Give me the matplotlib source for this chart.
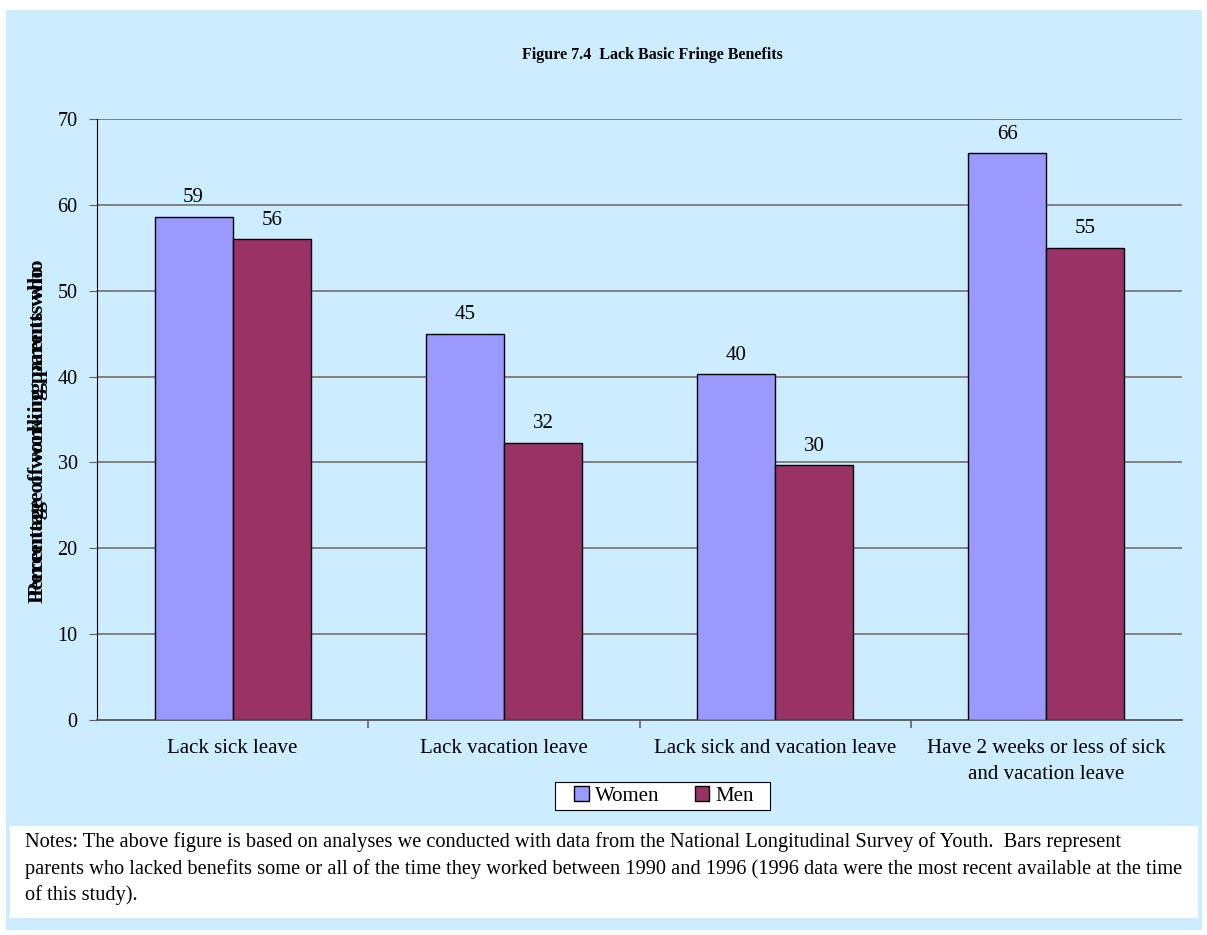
import matplotlib.pyplot as plt
import numpy as np
from matplotlib.patches import Rectangle

categories = ["Lack sick leave", "Lack vacation leave", "Lack sick and vacation leave",
              "Have 2 weeks or less of sick\nand vacation leave"]
women = [58.6, 45.0, 40.3, 66.0]
men = [56.0, 32.3, 29.7, 55.0]
series_names = ["Women", "Men"]

title = "Figure 7.4  Lack Basic Fringe Benefits"
ylabel = "Percentage of working parents who"
notes = ("Notes: The above figure is based on analyses we conducted with data from the National Longitudinal Survey of Youth.  Bars represent\n"
         "parents who lacked benefits some or all of the time they worked between 1990 and 1996 (1996 data were the most recent available at the time\n"
         "of this study).")

plt.rcParams['font.family'] = ['Liberation Serif', 'DejaVu Serif']
plt.rcParams['font.size'] = 15

W, H = 1207, 935
fig = plt.figure(figsize=(W / 100, H / 100), dpi=100)
fig.patch.set_facecolor('white')
bg = '#CCECFF'

# outer light blue panel and white notes box
fig.add_artist(Rectangle((6 / W, 1 - 930 / H), 1196 / W, 920 / H, transform=fig.transFigure,
                         facecolor=bg, edgecolor='none', zorder=-10))
fig.add_artist(Rectangle((10 / W, 1 - 918 / H), 1188 / W, 92 / H, transform=fig.transFigure,
                         facecolor='white', edgecolor='none', zorder=-5))

ax = fig.add_axes([97 / W, 1 - 720 / H, (1182 - 97) / W, (720 - 119) / H])
ax.set_facecolor(bg)

x = np.arange(len(categories))
bw = 0.288
b1 = ax.bar(x - bw / 2, women, bw, color='#9999FF', edgecolor='black', linewidth=1.0,
            label=series_names[0], zorder=3)
b2 = ax.bar(x + bw / 2, men, bw, color='#993366', edgecolor='black', linewidth=1.0,
            label=series_names[1], zorder=3)

for bars, vals in ((b1, women), (b2, men)):
    for r, v in zip(bars, vals):
        ax.text(r.get_x() + r.get_width() / 2, v + 1.1, f"{v:.0f}", ha='center', va='bottom',
                fontsize=15)

ax.set_ylim(0, 70)
ax.set_xlim(-0.5, len(categories) - 0.5)
ax.set_yticks(range(0, 71, 10))
ax.yaxis.grid(True, color='#808080', linewidth=1.4, zorder=0)
ax.set_xticks(np.arange(0.5, len(categories) - 1, 1))
ax.set_xticklabels([])
ax.set_xticks(x, minor=True)
ax.set_xticklabels(categories, minor=True, fontsize=15, linespacing=1.5)
ax.tick_params(axis='x', which='minor', length=0, pad=14)
ax.tick_params(axis='x', which='major', length=6, color='#606060', width=1.2)
ax.tick_params(axis='y', length=6, color='#606060', labelsize=14.5, pad=8)
for side in ('top', 'right'):
    ax.spines[side].set_visible(False)
ax.spines['left'].set_color('black')
ax.spines['bottom'].set_color('#606060')
ax.spines['bottom'].set_linewidth(1.4)

fig.text(652 / W, 1 - 55 / H, title, ha='center', va='center', fontsize=11.5, fontweight='bold')
# the axis title is printed twice, slightly shifted
fig.text(38 / W, 1 - 428 / H, ylabel, rotation=90, ha='center', va='center', fontsize=16,
         fontweight='bold')
fig.text(38 / W, 1 - 435 / H, ylabel, rotation=90, ha='center', va='center', fontsize=16,
         fontweight='bold')

# legend frame drawn separately so it can be wider than the entries
fig.add_artist(Rectangle((555 / W, 1 - 810 / H), 215 / W, 28 / H, transform=fig.transFigure,
                         facecolor='white', edgecolor='black', linewidth=0.8, zorder=4))
leg = fig.legend(loc='center', bbox_to_anchor=(664 / W, 1 - 796 / H), ncol=2, frameon=False,
                 fontsize=15, handlelength=0.7, handleheight=0.7, columnspacing=1.7,
                 handletextpad=0.3, borderpad=0.2)
leg.set_zorder(5)

fig.text(25 / W, 1 - 832 / H, notes, ha='left', va='top', fontsize=14.7, linespacing=1.46)

fig.savefig('out.png', dpi=100, facecolor=fig.get_facecolor())
